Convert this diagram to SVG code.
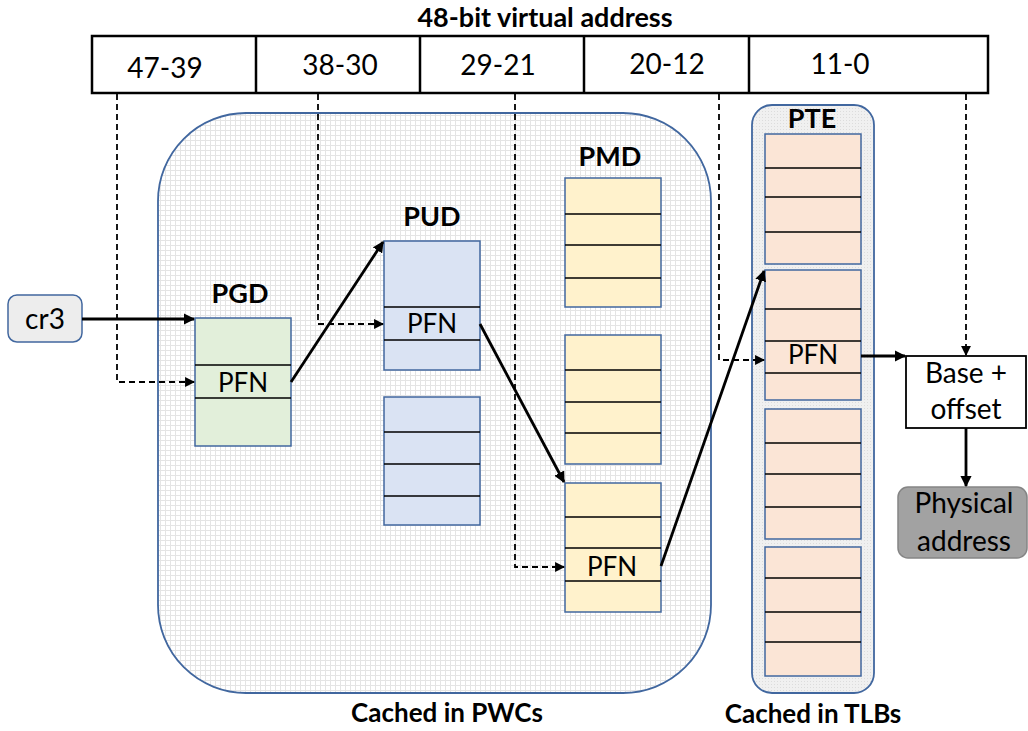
<svg xmlns="http://www.w3.org/2000/svg" width="1028" height="731" viewBox="0 0 1028 731">
  <style>
    text { font-family: Lato, "Liberation Sans", sans-serif; fill: #000; }
    .title { font-weight: bold; font-size: 27px; text-anchor: middle; }
    .cap { font-weight: bold; font-size: 26px; text-anchor: middle; }
    .lbl { font-size: 28px; text-anchor: middle; }
    .pfn { font-size: 26px; text-anchor: middle; }
    .field { fill: #fff; stroke: #000; stroke-width: 2.5; }
    .tbl { stroke: #41679f; stroke-width: 1.5; }
    .pgd { fill: #e2efda; }
    .pud { fill: #dae3f3; }
    .pmd { fill: #fff2cc; }
    .pte { fill: #fbe5d6; }
    .row { stroke: #000; stroke-width: 1.6; }
    .solid { fill: none; stroke: #000; stroke-width: 2.8; marker-end: url(#head); }
    .dash { fill: none; stroke: #000; stroke-width: 1.8; stroke-dasharray: 6 4; marker-end: url(#headS); }
  </style>
  <defs>
    <pattern id="grid" width="5" height="5" patternUnits="userSpaceOnUse">
      <rect width="5" height="5" fill="#ffffff"/>
      <path d="M0 0.5H5M0.5 0V5" stroke="#e4e4e4" stroke-width="1"/>
    </pattern>
    <pattern id="dots" width="3" height="3" patternUnits="userSpaceOnUse">
      <rect width="3" height="3" fill="#f0f0f0"/>
      <rect width="1" height="1" fill="#dcdcdc"/>
    </pattern>
    <marker id="head" viewBox="0 0 10 10" refX="9" refY="5" markerWidth="4" markerHeight="4" orient="auto" markerUnits="strokeWidth">
      <path d="M0 0L10 5L0 10z" fill="#000"/>
    </marker>
    <marker id="headS" viewBox="0 0 10 10" refX="9" refY="5" markerWidth="5.5" markerHeight="5.5" orient="auto" markerUnits="strokeWidth">
      <path d="M0 0L10 5L0 10z" fill="#000"/>
    </marker>
  </defs>

  <!-- cache regions -->
  <g id="pwc">
    <rect x="158" y="113" width="553" height="580" rx="88" fill="url(#grid)" stroke="#41679f" stroke-width="1.8"/>
    <text class="cap" x="447" y="722">Cached in PWCs</text>
  </g>
  <g id="tlb">
    <rect x="752" y="105" width="122" height="588" rx="20" fill="url(#dots)" stroke="#41679f" stroke-width="1.8"/>
    <text class="cap" x="813" y="723">Cached in TLBs</text>
  </g>

  <!-- virtual address fields -->
  <g id="vaddr">
    <text class="title" x="545" y="27" font-size="28">48-bit virtual address</text>
    <rect class="field" x="92" y="36" width="896" height="57"/>
    <path d="M256 36V93M420 36V93M584 36V93M749 36V93" stroke="#000" stroke-width="2.5"/>
    <text class="lbl" x="165" y="78">47-39</text>
    <text class="lbl" x="340" y="75">38-30</text>
    <text class="lbl" x="498" y="75">29-21</text>
    <text class="lbl" x="667" y="74">20-12</text>
    <text class="lbl" x="840" y="74">11-0</text>
  </g>

  <g id="cr3">
    <rect x="8" y="295" width="74" height="47" rx="9" fill="#ededed" stroke="#41679f" stroke-width="1.5"/>
    <text class="lbl" x="45" y="329">cr3</text>
  </g>

  <g id="pgd">
    <text class="title" x="240" y="303">PGD</text>
    <rect class="tbl pgd" x="195" y="318" width="96" height="128"/>
    <path class="row" d="M195 365H291M195 398H291"/>
    <text class="pfn" x="243" y="392">PFN</text>
  </g>

  <g id="pud">
    <text class="title" x="432" y="226">PUD</text>
    <rect class="tbl pud" x="384" y="241" width="96" height="129"/>
    <path class="row" d="M384 307H480M384 340H480"/>
    <text class="pfn" x="432" y="333">PFN</text>
    <rect class="tbl pud" x="384" y="397" width="96" height="128"/>
    <path class="row" d="M384 432H480M384 464H480M384 496H480"/>
  </g>

  <g id="pmd">
    <text class="title" x="610" y="166">PMD</text>
    <rect class="tbl pmd" x="565" y="178" width="96" height="129"/>
    <path class="row" d="M565 214H661M565 245H661M565 278H661"/>
    <rect class="tbl pmd" x="565" y="335" width="96" height="129"/>
    <path class="row" d="M565 370H661M565 402H661M565 433H661"/>
    <rect class="tbl pmd" x="565" y="483" width="96" height="129"/>
    <path class="row" d="M565 517H661M565 548H661M565 581H661"/>
    <text class="pfn" x="612" y="576">PFN</text>
  </g>

  <g id="pte">
    <text class="title" x="812" y="128">PTE</text>
    <rect class="tbl pte" x="765" y="134" width="96" height="130"/>
    <path class="row" d="M765 168H861M765 197H861M765 232H861"/>
    <rect class="tbl pte" x="765" y="270" width="96" height="130"/>
    <path class="row" d="M765 309H861M765 341H861M765 373H861"/>
    <text class="pfn" x="813" y="364">PFN</text>
    <rect class="tbl pte" x="765" y="409" width="96" height="130"/>
    <path class="row" d="M765 443H861M765 474H861M765 507H861"/>
    <rect class="tbl pte" x="765" y="547" width="96" height="129"/>
    <path class="row" d="M765 578H861M765 612H861M765 642H861"/>
  </g>

  <g id="base-offset">
    <rect x="906" y="356" width="120" height="72" fill="#fff" stroke="#000" stroke-width="1.8"/>
    <text class="lbl" x="966" y="383">Base +</text>
    <text class="lbl" x="966" y="419">offset</text>
  </g>

  <g id="phys">
    <rect x="898" y="487" width="129" height="71" rx="10" fill="#a2a2a2" stroke="#858585" stroke-width="1.5"/>
    <text class="lbl" x="964" y="513">Physical</text>
    <text class="lbl" x="964" y="551">address</text>
  </g>

  <!-- connectors -->
  <g id="connectors">
    <path class="solid" d="M82 319H194"/>
    <path class="dash" d="M117 94V382H194"/>
    <path class="solid" d="M291 382L383 242"/>
    <path class="dash" d="M318 94V324H383"/>
    <path class="solid" d="M480 324L564 482"/>
    <path class="dash" d="M515 94V567H564"/>
    <path class="solid" d="M661 566L764 271"/>
    <path class="dash" d="M719 94V360H764"/>
    <path class="solid" d="M861 356H905"/>
    <path class="dash" d="M966 94V355"/>
    <path class="solid" d="M966 428V486"/>
  </g>
</svg>
